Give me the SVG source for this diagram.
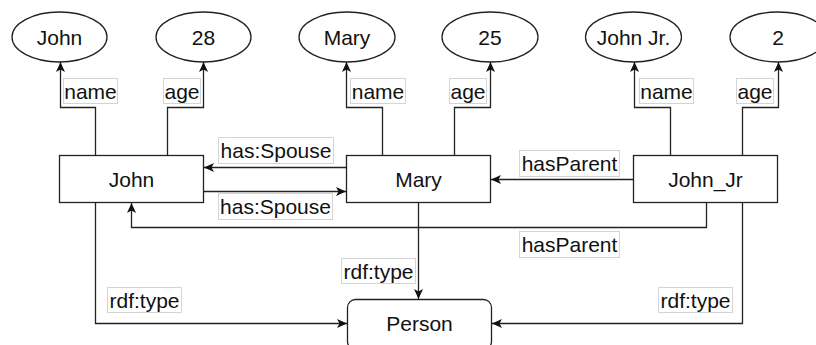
<svg xmlns="http://www.w3.org/2000/svg" width="816" height="345" viewBox="0 0 816 345">
  <style>
    .shape { fill: #ffffff; stroke: #222222; stroke-width: 1.3; }
    .txt { font-family: "Liberation Sans", Arial, sans-serif; font-size: 21px; fill: #111111; text-anchor: middle; }
    .edge { fill: none; stroke: #222222; stroke-width: 1.3; }
    .lblbg { fill: #ffffff; stroke: #d4d4d4; stroke-width: 1; }
  </style>
  <defs>
    <marker id="arrow" markerUnits="userSpaceOnUse" markerWidth="12" markerHeight="10" refX="10" refY="4.5" orient="auto">
      <path d="M0,0 L10,4.5 L0,9 L2.5,4.5 Z" fill="#111111"/>
    </marker>
  </defs>

  <rect width="816" height="345" fill="#ffffff"/>

  <!-- literal value nodes -->
  <g id="lit-john-name">
    <ellipse class="shape" cx="59.5" cy="37" rx="47.5" ry="25"/>
    <text class="txt" x="59.5" y="44.5">John</text>
  </g>
  <g id="lit-john-age">
    <ellipse class="shape" cx="203.5" cy="37" rx="47.5" ry="25"/>
    <text class="txt" x="203.5" y="44.5">28</text>
  </g>
  <g id="lit-mary-name">
    <ellipse class="shape" cx="347" cy="37" rx="48" ry="25"/>
    <text class="txt" x="347" y="44.5">Mary</text>
  </g>
  <g id="lit-mary-age">
    <ellipse class="shape" cx="490" cy="37" rx="48" ry="25"/>
    <text class="txt" x="490" y="44.5">25</text>
  </g>
  <g id="lit-jr-name">
    <ellipse class="shape" cx="633.5" cy="37" rx="48" ry="25"/>
    <text class="txt" x="633.5" y="44.5">John Jr.</text>
  </g>
  <g id="lit-jr-age">
    <ellipse class="shape" cx="778" cy="37" rx="48" ry="25"/>
    <text class="txt" x="778" y="44.5">2</text>
  </g>

  <!-- resource nodes -->
  <g id="john">
    <rect class="shape" x="59.5" y="155.5" width="144" height="47"/>
    <text class="txt" x="131.5" y="186.5">John</text>
  </g>
  <g id="mary">
    <rect class="shape" x="346.5" y="155.5" width="144" height="47"/>
    <text class="txt" x="418.5" y="186.5">Mary</text>
  </g>
  <g id="john-jr">
    <rect class="shape" x="633.5" y="155.5" width="144" height="47"/>
    <text class="txt" x="705.5" y="186.5">John_Jr</text>
  </g>
  <g id="person">
    <rect class="shape" x="347.5" y="299.5" width="144" height="50" rx="8" ry="8"/>
    <text class="txt" x="419.5" y="330.5">Person</text>
  </g>

  <!-- connectors -->
  <g id="connectors">
    <!-- name / age properties -->
    <path class="edge" d="M95.5,155 V107.5 H60.5 V62" marker-end="url(#arrow)"/>
    <path class="edge" d="M167.5,155 V107.5 H203.5 V62" marker-end="url(#arrow)"/>
    <path class="edge" d="M382.5,155 V107.5 H346.5 V62" marker-end="url(#arrow)"/>
    <path class="edge" d="M454.5,155 V107.5 H490.5 V62" marker-end="url(#arrow)"/>
    <path class="edge" d="M670.5,155 V107.5 H634.5 V62" marker-end="url(#arrow)"/>
    <path class="edge" d="M742.5,155 V107.5 H778.5 V62" marker-end="url(#arrow)"/>

    <!-- spouse links -->
    <path class="edge" d="M346,167.5 H204" marker-end="url(#arrow)"/>
    <path class="edge" d="M204,191.5 H346" marker-end="url(#arrow)"/>

    <!-- parent links -->
    <path class="edge" d="M633,179.5 H491" marker-end="url(#arrow)"/>
    <path class="edge" d="M706.5,203 V227.5 H131.5 V203" marker-end="url(#arrow)"/>

    <!-- type links -->
    <path class="edge" d="M418.5,203 V299" marker-end="url(#arrow)"/>
    <path class="edge" d="M95.5,203 V323.5 H347" marker-end="url(#arrow)"/>
    <path class="edge" d="M742.5,203 V323.5 H492" marker-end="url(#arrow)"/>

    <!-- edge labels -->
    <rect class="lblbg" x="63.5" y="78.5" width="54" height="25"/>
    <text class="txt" x="90.5" y="98.5">name</text>
    <rect class="lblbg" x="163.5" y="78.5" width="37" height="25"/>
    <text class="txt" x="182" y="98.5">age</text>
    <rect class="lblbg" x="350.5" y="78.5" width="55" height="25"/>
    <text class="txt" x="378" y="98.5">name</text>
    <rect class="lblbg" x="449.5" y="78.5" width="37" height="25"/>
    <text class="txt" x="468" y="98.5">age</text>
    <rect class="lblbg" x="639.5" y="78.5" width="54" height="25"/>
    <text class="txt" x="666.5" y="98.5">name</text>
    <rect class="lblbg" x="736.5" y="78.5" width="37" height="25"/>
    <text class="txt" x="755" y="98.5">age</text>

    <rect class="lblbg" x="218.5" y="137.5" width="115" height="26"/>
    <text class="txt" x="276" y="157.5">has:Spouse</text>
    <rect class="lblbg" x="218.5" y="193.5" width="114" height="26"/>
    <text class="txt" x="275.5" y="213.5">has:Spouse</text>

    <rect class="lblbg" x="519.5" y="150.5" width="100" height="26"/>
    <text class="txt" x="569.5" y="170.5">hasParent</text>
    <rect class="lblbg" x="519.5" y="231.5" width="100" height="26"/>
    <text class="txt" x="569.5" y="251.5">hasParent</text>

    <rect class="lblbg" x="341.5" y="258.5" width="74" height="25"/>
    <text class="txt" x="378.5" y="278.5">rdf:type</text>
    <rect class="lblbg" x="107.5" y="287.5" width="74" height="25"/>
    <text class="txt" x="144.5" y="307.5">rdf:type</text>
    <rect class="lblbg" x="658.5" y="287.5" width="74" height="25"/>
    <text class="txt" x="695.5" y="307.5">rdf:type</text>
  </g>
</svg>
